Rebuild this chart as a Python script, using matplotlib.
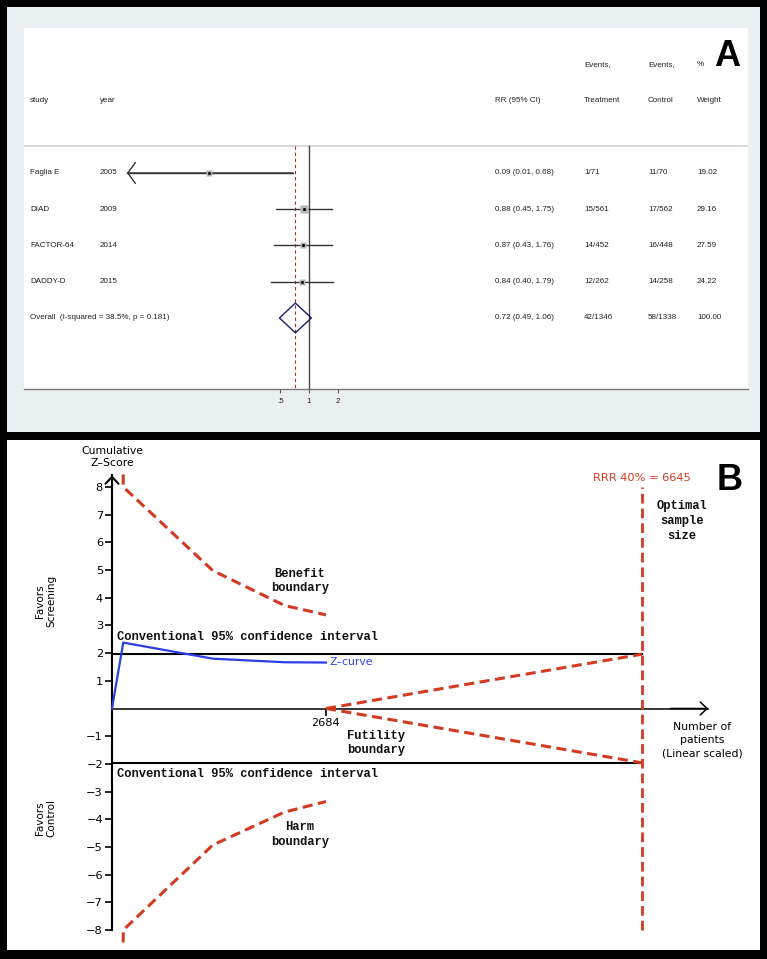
import matplotlib
matplotlib.use('Agg')
import matplotlib.pyplot as plt
from matplotlib.patches import Rectangle, Polygon
import matplotlib.transforms as mtransforms

# ---------------- Panel A data (forest plot) ----------------
studies = ["Faglia E", "DIAD", "FACTOR-64", "DADDY-D"]
years = ["2005", "2009", "2014", "2015"]
rr = [0.09, 0.88, 0.87, 0.84]
ci_lo = [0.01, 0.45, 0.43, 0.40]
ci_hi = [0.68, 1.75, 1.76, 1.79]
rr_text = ["0.09 (0.01, 0.68)", "0.88 (0.45, 1.75)", "0.87 (0.43, 1.76)", "0.84 (0.40, 1.79)"]
events_trt = ["1/71", "15/561", "14/452", "12/262"]
events_ctl = ["11/70", "17/562", "16/448", "14/258"]
weights = [19.02, 29.16, 27.59, 24.22]
weight_text = ["19.02", "29.16", "27.59", "24.22"]
overall_rr = 0.72
overall_lo = 0.49
overall_hi = 1.06
overall_rr_text = "0.72 (0.49, 1.06)"
overall_trt = "42/1346"
overall_ctl = "58/1338"
overall_weight = "100.00"
overall_label = "Overall  (I-squared = 38.5%, p = 0.181)"
forest_ticks = [0.5, 1, 2]
forest_ticklabels = [".5", "1", "2"]

# ---------------- Panel B data (trial sequential analysis) ----------------
cum_patients = [0, 141, 1264, 2164, 2684]
z_curve = [0, 2.38, 1.80, 1.67, 1.66]
bound_patients = [141, 141, 1264, 2164, 2684]
benefit_z = [8.45, 8.0, 4.98, 3.72, 3.38]
harm_z = [-8.45, -8.0, -4.93, -3.74, -3.36]
futility_patients = [2684, 6645]
futility_upper = [0, 1.96]
futility_lower = [0, -1.96]
conv_z = 1.96
ris = 6645
accrued = 2684
yticks_b = [-8, -7, -6, -5, -4, -3, -2, -1, 1, 2, 3, 4, 5, 6, 7, 8]

W, H = 767, 959


def frect(x0, y0, x1, y1):
    return [x0 / W, 1 - y1 / H, (x1 - x0) / W, (y1 - y0) / H]


fig = plt.figure(figsize=(W / 100, H / 100), dpi=100, facecolor='black')
fig.add_artist(Rectangle((7 / W, 1 - 432 / H), 753 / W, 425 / H, transform=fig.transFigure,
                         facecolor='#eaf0f2', edgecolor='none', zorder=0))
fig.add_artist(Rectangle((7 / W, 1 - 950 / H), 753 / W, 510 / H, transform=fig.transFigure,
                         facecolor='white', edgecolor='none', zorder=0))

# ======================= Panel A =======================
fa = 'Liberation Sans'
fsA = 5.8
tc = '#222222'
axA = fig.add_axes(frect(24, 28, 748, 389), facecolor='white')
axA.set_xscale('log')
axA.set_xlim(2 ** ((24 - 309) / 28.7), 2 ** ((748 - 309) / 28.7))
axA.set_ylim(5.96, -4.0)
for s in ['top', 'right', 'left']:
    axA.spines[s].set_visible(False)
axA.spines['bottom'].set_color('#777777')
axA.spines['bottom'].set_linewidth(1.0)
axA.set_yticks([])
axA.set_xticks(forest_ticks)
axA.set_xticklabels(forest_ticklabels, fontfamily=fa, fontsize=fsA, color=tc)
axA.xaxis.set_minor_locator(matplotlib.ticker.NullLocator())
axA.tick_params(axis='x', direction='out', length=3, width=0.8, color='#555555', pad=3.5)

trA = mtransforms.blended_transform_factory(axA.transAxes, axA.transData)
col_study, col_year, col_rr, col_trt, col_ctl, col_w = 0.0083, 0.105, 0.6506, 0.7735, 0.8619, 0.9296

def tA(x, y, s):
    axA.text(x, y, s, transform=trA, fontfamily=fa, fontsize=fsA, color=tc, ha='left', va='center')

tA(col_study, -2, "study")
tA(col_year, -2, "year")
tA(col_rr, -2, "RR (95% CI)")
tA(col_trt, -3, "Events,")
tA(col_trt, -2, "Treatment")
tA(col_ctl, -3, "Events,")
tA(col_ctl, -2, "Control")
tA(col_w, -3, "%")
tA(col_w, -2, "Weight")

sep_y = -0.745
axA.axhline(sep_y, color='#d6d6d6', lw=1.3)
axA.plot([1, 1], [sep_y, 5.96], color='#444444', lw=1.0, zorder=2)
axA.plot([overall_rr, overall_rr], [sep_y, 5.96], color='#b03030', lw=0.8,
         dashes=(3, 2.5), zorder=2)

clip_lo = 0.0123
for i in range(len(studies)):
    tA(col_study, i, studies[i])
    tA(col_year, i, years[i])
    tA(col_rr, i, rr_text[i])
    tA(col_trt, i, events_trt[i])
    tA(col_ctl, i, events_ctl[i])
    tA(col_w, i, weight_text[i])
    lo = max(ci_lo[i], clip_lo)
    axA.plot([lo, ci_hi[i]], [i, i], color='#333333', lw=1.0, zorder=3)
    if ci_lo[i] < clip_lo:
        axA.annotate('', xy=(clip_lo, i), xytext=(ci_hi[i], i),
                     arrowprops=dict(arrowstyle='->,head_length=0.55,head_width=0.75',
                                     lw=1.0, color='#333333', mutation_scale=10,
                                     shrinkA=0, shrinkB=0), zorder=3)
    axA.plot([rr[i]], [i], marker='s', ms=weights[i] ** 0.5 * 0.95, color='#b5b5b5',
             mec='none', zorder=4)
    axA.plot([rr[i]], [i], marker='o', ms=2.2, color='black', mec='none', zorder=5)

row_o = len(studies)
tA(col_study, row_o, overall_label)
tA(col_rr, row_o, overall_rr_text)
tA(col_trt, row_o, overall_trt)
tA(col_ctl, row_o, overall_ctl)
tA(col_w, row_o, overall_weight)
axA.add_patch(Polygon([(overall_lo, row_o), (overall_rr, row_o - 0.41),
                       (overall_hi, row_o), (overall_rr, row_o + 0.41)],
                      closed=True, fill=False, edgecolor='#1c1c6b', lw=1.0, zorder=4))

fig.text(727 / W, 1 - 56 / H, 'A', fontfamily=fa, fontweight='bold', fontsize=26,
         ha='center', va='center', color='black')

# ======================= Panel B =======================
fb = 'DejaVu Sans'
fm = 'Liberation Mono'
red = '#d23a22'
blue = '#2b3fe3'
axB = fig.add_axes(frect(7, 440, 760, 950), facecolor='white')
ppx = 0.07973
ppy = 27.69
axB.set_xlim((7 - 112) / ppx, (760 - 112) / ppx)
axB.set_ylim((708.5 - 950) / ppy, (708.5 - 440) / ppy)
axB.spines['top'].set_visible(False)
axB.spines['right'].set_visible(False)
axB.spines['left'].set_position(('data', 0))
axB.spines['bottom'].set_position(('data', 0))
axB.spines['left'].set_bounds(-8, 8.42)
axB.spines['bottom'].set_bounds(0, 7478)
axB.spines['left'].set_linewidth(1.5)
axB.spines['bottom'].set_linewidth(1.1)
axB.set_yticks(yticks_b)
axB.set_yticklabels([str(v).replace('-', '\u2212') for v in yticks_b], fontfamily=fb, fontsize=8.2)
axB.set_xticks([accrued])
axB.set_xticklabels([str(accrued)], fontfamily=fb, fontsize=8.2)
axB.tick_params(axis='y', direction='out', length=5, width=1.2, pad=1.5)
axB.tick_params(axis='x', direction='out', length=5, width=1.2, pad=2)

arrow_kw = dict(arrowstyle='->,head_length=0.33,head_width=0.31', lw=1.5, color='black',
                mutation_scale=15, shrinkA=0, shrinkB=0)
axB.annotate('', xy=(0, 8.42), xytext=(0, 8.0), arrowprops=arrow_kw)
axB.annotate('', xy=(7478, 0), xytext=(7000, 0), arrowprops=dict(arrow_kw, lw=1.1))

# conventional boundaries
axB.plot([0, ris], [conv_z, conv_z], color='black', lw=1.5, zorder=3)
axB.plot([0, ris], [-conv_z, -conv_z], color='black', lw=1.5, zorder=3)

dash = (3.3, 1.8)
axB.plot(bound_patients, benefit_z, color=red, lw=2.2, dashes=dash, zorder=4)
axB.plot(bound_patients, harm_z, color=red, lw=2.2, dashes=dash, zorder=4)
axB.plot(futility_patients, futility_upper, color=red, lw=2.2, dashes=dash, zorder=4)
axB.plot(futility_patients, futility_lower, color=red, lw=2.2, dashes=dash, zorder=4)
axB.plot([ris, ris], [-8, 8], color=red, lw=2.0, dashes=(3.5, 1.8), zorder=4)
axB.plot(cum_patients, z_curve, color=blue, lw=1.6, zorder=5)

mono = dict(fontfamily=fm, fontweight='bold', fontsize=8.7, color='#111111')
axB.text(63, 2.58, 'Conventional 95% confidence interval', ha='left', va='center', **mono)
axB.text(63, -2.37, 'Conventional 95% confidence interval', ha='left', va='center', **mono)
axB.text(2358, 4.60, 'Benefit\nboundary', ha='center', va='center', linespacing=1.3, **mono)
axB.text(2358, -4.55, 'Harm\nboundary', ha='center', va='center', linespacing=1.3, **mono)
axB.text(3311, -1.25, 'Futility\nboundary', ha='center', va='center', linespacing=1.2, **mono)
axB.text(7149, 6.77, 'Optimal\nsample\nsize', ha='center', va='center', linespacing=1.35, **mono)

axB.text(ris, 8.32, 'RRR 40% = 6645', color=red, fontfamily=fb, fontsize=8.2,
         ha='center', va='center')
axB.text(2734, 1.68, 'Z\u2013curve', color=blue, fontfamily=fb, fontsize=7.8,
         ha='left', va='center')
axB.text(0, 9.08, 'Cumulative\nZ\u2013Score', fontfamily=fb, fontsize=7.8, ha='center',
         va='center', linespacing=1.25)
axB.text(7400, -1.14, 'Number of\npatients\n(Linear scaled)', fontfamily=fb, fontsize=7.8,
         ha='center', va='center', linespacing=1.4)
axB.text(-828, 3.88, 'Favors\nScreening', fontfamily=fb, fontsize=7.5, ha='center',
         va='center', rotation=90, linespacing=1.2)
axB.text(-828, -3.95, 'Favors\nControl', fontfamily=fb, fontsize=7.5, ha='center',
         va='center', rotation=90, linespacing=1.2)

fig.text(730 / W, 1 - 480 / H, 'B', fontfamily=fa, fontweight='bold', fontsize=26,
         ha='center', va='center', color='black')

fig.savefig('out.png', dpi=100, facecolor='black')
